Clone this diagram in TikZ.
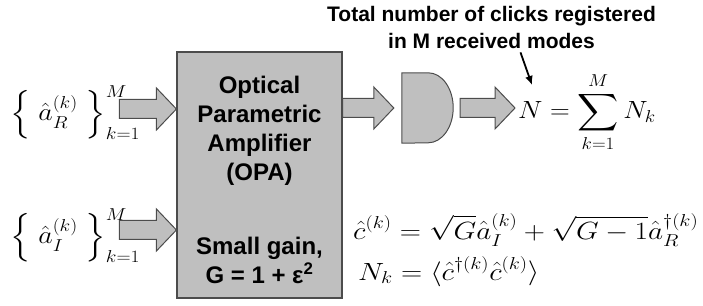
\documentclass[tikz,border=0pt]{standalone}
\usepackage{graphicx}
\usepackage{amsmath}
\usepackage{fontspec}
\setmainfont{Liberation Sans}
\DeclareFontFamily{OMX}{cmex}{}
\DeclareFontShape{OMX}{cmex}{m}{n}{<-> cmex10}{}
\usetikzlibrary{arrows.meta,positioning,calc}
\newcommand{\stretchmath}[2]{\scalebox{#1}[1]{$\displaystyle #2$}}
\colorlet{opagray}{black!25}
\colorlet{opaline}{black!70}
\tikzset{
    opabox/.style={rectangle,draw=opaline,fill=opagray,line width=1.2pt,minimum width=165pt,minimum height=246pt},
    opatext/.style={align=center,inner sep=0pt,font=\fontsize{24}{29}\selectfont\bfseries},
    notetext/.style={align=center,inner sep=0pt,font=\fontsize{21}{27}\selectfont\bfseries},
    modelabel/.style={inner sep=0pt,anchor=base west,font=\fontsize{27}{32}\selectfont},
    formula/.style={inner sep=0pt,anchor=base west,font=\fontsize{26}{31}\selectfont},
    detbox/.style={rectangle,minimum width=51pt,minimum height=70pt,inner sep=0pt},
    detshape/.style={draw=opaline,fill=opagray,line width=1pt},
    fatarrow/.style={draw=opaline,fill=opagray,line width=1pt,
        to path={let \p1=(\tikztostart),\p2=(\tikztotarget) in
            (\x1,\y1+9.5pt) -- (\x2-20pt,\y1+9.5pt) -- (\x2-20pt,\y1+21pt) -- (\x2,\y1)
            -- (\x2-20pt,\y1-21pt) -- (\x2-20pt,\y1-9.5pt) -- (\x1,\y1-9.5pt) -- cycle}},
    pointline/.style={-{Latex[length=9pt,width=8pt]},line width=1.8pt}
}
\begin{document}
\begin{tikzpicture}[x=1pt,y=1pt]
    \useasboundingbox (0,0) rectangle (703,305);
    % amplifier
    \node[opabox] (opa) at (259.5,130) {};
    \node[opatext,below=25pt of opa.north] (opaname) {Optical\\Parametric\\Amplifier\\(OPA)};
    \node[opatext,above=15pt of opa.south] (opagain) {Small gain,\\G = 1 + ε\textsuperscript{2}};
    % input modes
    \node[modelabel] (inR) at (10,184) {\stretchmath{1.13}{\Big\{\;\hat a_R^{(k)}\;\Big\}_{k=1}^{M}}};
    \node[modelabel] (inI) at (10,61) {\stretchmath{1.13}{\Big\{\;\hat a_I^{(k)}\;\Big\}_{k=1}^{M}}};
    % detector
    \node[detbox] (det) at (427.5,197) {};
    \draw[detshape] (det.south west) -- (det.north west) -- ([xshift=-25pt]det.north east)
        arc[start angle=90,end angle=-90,x radius=25pt,y radius=35pt] -- cycle;
    \node[formula] (sum) at (518,186) {\stretchmath{1.1}{N=\sum_{k=1}^{M}N_k}};
    \node[notetext] (clicks) at (491.5,278) {Total number of clicks registered\\in M received modes};
    \coordinate (ntop) at ([shift={(14pt,34pt)}]sum.base west);
    % output mode and click number
    \node[formula] (cout) at (353,66) {\stretchmath{1.18}{\hat c^{(k)}=\sqrt{G}\hat a_I^{(k)}+\sqrt{G-1}\hat a_R^{\dagger(k)}}};
    \node[formula] (nk) at (358,25) {\stretchmath{1.18}{N_k=\langle\hat c^{\dagger(k)}\hat c^{(k)}\rangle}};
    % block arrows
    \draw[fatarrow] ([shift={(-21pt,12pt)}]inR.base east) to (opa.west);
    \draw[fatarrow] ([shift={(-21pt,14pt)}]inI.base east) to (opa.west);
    \draw[fatarrow] (opa.east |- det.west) to ([xshift=-8pt]det.west);
    \draw[fatarrow] ([xshift=7pt]det.east) to ([xshift=-3pt]sum.west);
    \draw[pointline] ([xshift=29pt,yshift=-4pt]clicks.south) -- (ntop);
\end{tikzpicture}
\end{document}
